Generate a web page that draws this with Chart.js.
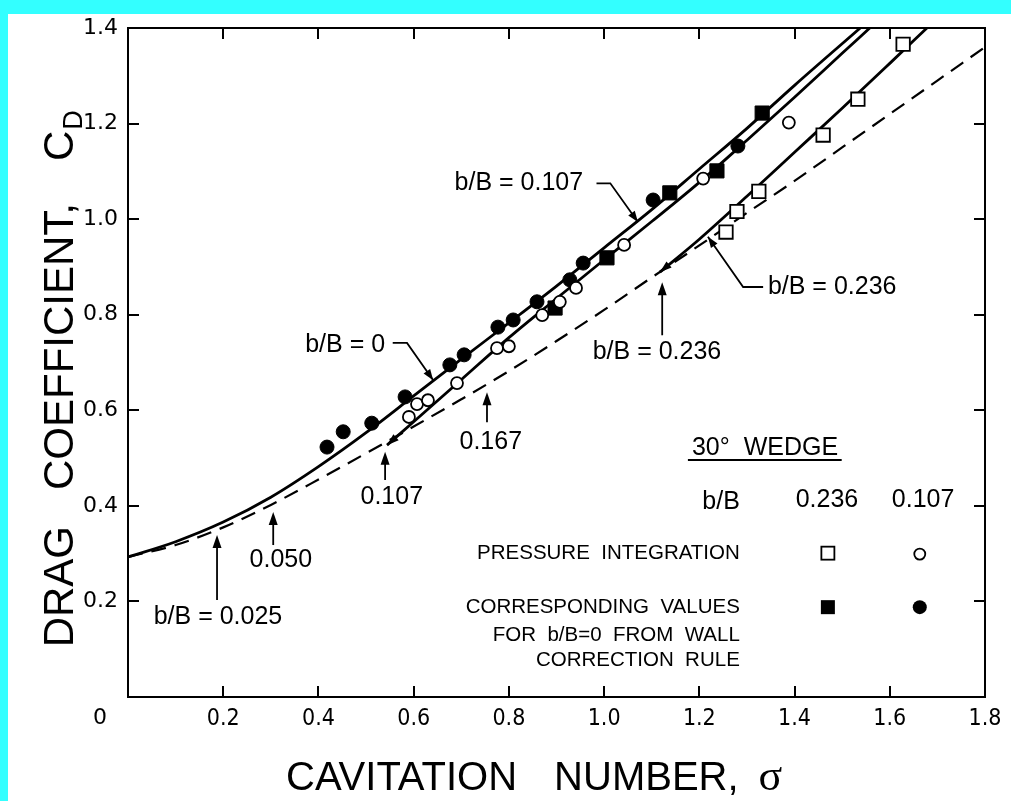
<!DOCTYPE html>
<html>
<head>
<meta charset="utf-8">
<script src="https://cdn.jsdelivr.net/npm/chart.js@4.4.0/dist/chart.umd.min.js"></script>
<style>
  html, body { margin: 0; padding: 0; background: #fff; }
  canvas { display: block; }
</style>
</head>
<body>
<canvas id="chart" width="1011" height="801"></canvas>
<script>
// Curves
const sigmaB0   = [0, 0.1, 0.2, 0.3, 0.4, 0.5, 0.6, 0.7, 0.8, 0.9, 1.0, 1.1, 1.2, 1.3, 1.4, 1.538];
const cdB0      = [0.293, 0.325, 0.366, 0.418, 0.482, 0.553, 0.630, 0.707, 0.783, 0.860, 0.940, 1.020, 1.105, 1.190, 1.280, 1.400];

const sigmaB107 = [0.544, 0.6, 0.7, 0.8, 0.9, 1.0, 1.1, 1.2, 1.3, 1.4, 1.5, 1.558];
const cdB107    = [0.527, 0.576, 0.664, 0.752, 0.834, 0.915, 0.995, 1.077, 1.165, 1.255, 1.347, 1.400];

const sigmaB236 = [1.117, 1.2, 1.3, 1.4, 1.5, 1.6, 1.678];
const cdB236    = [0.889, 0.958, 1.048, 1.140, 1.232, 1.326, 1.400];

const sigmaDash = [0, 0.1, 0.2, 0.3, 0.4, 0.5, 0.6, 0.7, 0.8, 0.9, 1.0, 1.1, 1.2, 1.3, 1.4, 1.5, 1.6, 1.7, 1.8];
const cdDash    = [0.293, 0.318, 0.355, 0.402, 0.455, 0.510, 0.566, 0.623, 0.682, 0.745, 0.810, 0.878, 0.945, 1.013, 1.080, 1.150, 1.220, 1.290, 1.360];

// Measured points
const sigmaOpenCircle   = [0.590, 0.607, 0.630, 0.691, 0.775, 0.800, 0.870, 0.907, 0.941, 1.042, 1.208, 1.388];
const cdOpenCircle      = [0.586, 0.613, 0.621, 0.657, 0.730, 0.734, 0.799, 0.827, 0.856, 0.946, 1.085, 1.202];
const sigmaFilledCircle = [0.418, 0.452, 0.512, 0.582, 0.676, 0.706, 0.777, 0.809, 0.859, 0.928, 0.956, 1.103, 1.281];
const cdFilledCircle    = [0.523, 0.555, 0.573, 0.628, 0.695, 0.716, 0.774, 0.789, 0.827, 0.873, 0.908, 1.040, 1.153];
const sigmaOpenSquare   = [1.256, 1.279, 1.325, 1.460, 1.533, 1.628];
const cdOpenSquare      = [0.973, 1.016, 1.058, 1.176, 1.251, 1.366];
const sigmaFilledSquare = [0.897, 1.006, 1.138, 1.237, 1.332];
const cdFilledSquare    = [0.814, 0.919, 1.055, 1.101, 1.222];

// Axis ticks
const xTickValues = [0, 0.2, 0.4, 0.6, 0.8, 1.0, 1.2, 1.4, 1.6, 1.8];
const yTickValues = [0, 0.2, 0.4, 0.6, 0.8, 1.0, 1.2, 1.4];

// Labels on the plot: [text, sigma, cd, align]
const curveLabels = [
  ['b/B = 0.107', 0.956, 1.075, 'right'],
  ['b/B = 0', 0.540, 0.737, 'right'],
  ['b/B = 0.236', 1.344, 0.858, 'left'],
  ['b/B = 0.236', 1.111, 0.722, 'center'],
  ['0.167', 0.762, 0.534, 'center'],
  ['0.107', 0.554, 0.418, 'center'],
  ['0.050', 0.321, 0.287, 'center'],
  ['b/B = 0.025', 0.189, 0.167, 'center']
];
// Leader lines: list of [sigma, cd] points, arrow at the last one
const leaders = [
  [[0.984, 1.075], [1.013, 1.075], [1.071, 0.994]],
  [[0.556, 0.741], [0.586, 0.741], [0.641, 0.663]],
  [[1.334, 0.858], [1.292, 0.858], [1.218, 0.963]]
];
// Vertical arrows: [sigma, cd from, cd to]
const upArrows = [
  [1.122, 0.757, 0.868],
  [0.754, 0.575, 0.638],
  [0.540, 0.454, 0.513],
  [0.305, 0.318, 0.387],
  [0.187, 0.203, 0.339]
];

const legendRows = ['PRESSURE  INTEGRATION', 'CORRESPONDING  VALUES', 'FOR  b/B=0  FROM  WALL', 'CORRECTION  RULE'];
const legendCols = ['0.236', '0.107'];

function pts(xs, ys) { return xs.map((x, i) => ({ x: x, y: ys[i] })); }

const SANS = '"Liberation Sans", Arial, sans-serif';

function arrowHead(ctx, x1, y1, x2, y2, len, half) {
  const a = Math.atan2(y2 - y1, x2 - x1);
  ctx.beginPath();
  ctx.moveTo(x2, y2);
  ctx.lineTo(x2 - len * Math.cos(a) + half * Math.sin(a), y2 - len * Math.sin(a) - half * Math.cos(a));
  ctx.lineTo(x2 - len * Math.cos(a) - half * Math.sin(a), y2 - len * Math.sin(a) + half * Math.cos(a));
  ctx.closePath();
  ctx.fill();
}

const decor = {
  id: 'decor',
  beforeDraw(chart) {
    const ctx = chart.ctx;
    ctx.save();
    ctx.fillStyle = '#fff';
    ctx.fillRect(0, 0, chart.width, chart.height);
    ctx.fillStyle = '#33ffff';
    ctx.fillRect(0, 0, chart.width, 14);
    ctx.fillRect(0, 0, 8, chart.height);
    ctx.restore();
  },
  afterDatasetsDraw(chart) {
    const ctx = chart.ctx;
    const xs = chart.scales.x, ys = chart.scales.y;
    const a = chart.chartArea;
    const X = v => xs.getPixelForValue(v);
    const Y = v => ys.getPixelForValue(v);
    ctx.save();
    ctx.strokeStyle = '#000';
    ctx.fillStyle = '#000';

    // frame + inward ticks
    ctx.lineWidth = 2;
    ctx.strokeRect(a.left, a.top, a.right - a.left, a.bottom - a.top);
    ctx.beginPath();
    xTickValues.slice(1, -1).forEach(v => {
      const px = Math.round(X(v));
      ctx.moveTo(px, a.top); ctx.lineTo(px, a.top + 11);
      ctx.moveTo(px, a.bottom); ctx.lineTo(px, a.bottom - 11);
    });
    yTickValues.slice(1, -1).forEach(v => {
      const py = Math.round(Y(v));
      ctx.moveTo(a.left, py); ctx.lineTo(a.left + 11, py);
      ctx.moveTo(a.right, py); ctx.lineTo(a.right - 11, py);
    });
    ctx.stroke();

    // arrowheads at the start of the blocked curves
    [[sigmaB107, cdB107], [sigmaB236, cdB236]].forEach(([sx, sy]) => {
      arrowHead(ctx, X(sx[1]), Y(sy[1]), X(sx[0]), Y(sy[0]), 12, 4);
    });

    // curve labels
    ctx.font = '25px ' + SANS;
    ctx.textBaseline = 'middle';
    curveLabels.forEach(([t, sx, sy, al]) => {
      ctx.textAlign = al;
      ctx.fillText(t, X(sx), Y(sy));
    });

    // leaders
    ctx.lineWidth = 1.8;
    leaders.forEach(p => {
      ctx.beginPath();
      p.forEach(([sx, sy], i) => i ? ctx.lineTo(X(sx), Y(sy)) : ctx.moveTo(X(sx), Y(sy)));
      ctx.stroke();
      const n = p.length;
      arrowHead(ctx, X(p[n - 2][0]), Y(p[n - 2][1]), X(p[n - 1][0]), Y(p[n - 1][1]), 11, 4);
    });
    upArrows.forEach(([sx, c0, c1]) => {
      ctx.beginPath();
      ctx.moveTo(X(sx), Y(c0)); ctx.lineTo(X(sx), Y(c1) + 4);
      ctx.stroke();
      arrowHead(ctx, X(sx), Y(c0), X(sx), Y(c1), 13, 4.5);
    });

    // legend block
    ctx.textBaseline = 'middle';
    ctx.textAlign = 'center';
    ctx.font = '25px ' + SANS;
    ctx.fillText('30\u00b0  WEDGE', X(1.338), Y(0.521));
    ctx.lineWidth = 2;
    ctx.beginPath();
    ctx.moveTo(X(1.176), Y(0.496)); ctx.lineTo(X(1.499), Y(0.496));
    ctx.stroke();
    ctx.font = '25px ' + SANS;
    ctx.textAlign = 'right';
    ctx.fillText('b/B', X(1.285), Y(0.408));
    ctx.textAlign = 'center';
    ctx.fillText(legendCols[0], X(1.468), Y(0.412));
    ctx.fillText(legendCols[1], X(1.670), Y(0.412));
    ctx.font = '20.5px ' + SANS;
    ctx.textAlign = 'right';
    const rowY = [0.301, 0.188, 0.130, 0.077];
    legendRows.forEach((t, i) => ctx.fillText(t, X(1.285), Y(rowY[i])));
    ctx.lineWidth = 1.8;
    const sq = 13;
    ctx.strokeRect(X(1.470) - sq / 2, Y(0.301) - sq / 2, sq, sq);
    ctx.fillRect(X(1.470) - 7, Y(0.188) - 7, 14, 14);
    ctx.beginPath(); ctx.arc(X(1.663), Y(0.299), 5.5, 0, Math.PI * 2); ctx.stroke();
    ctx.beginPath(); ctx.arc(X(1.663), Y(0.188), 7, 0, Math.PI * 2); ctx.fill();

    // corner zero
    ctx.font = '22px "DejaVu Sans", sans-serif';
    ctx.textAlign = 'center';
    ctx.fillText('0', a.left - 28, a.bottom + 21);

    // x title
    ctx.font = '40px ' + SANS;
    ctx.textAlign = 'left';
    ctx.textBaseline = 'alphabetic';
    const xt = ['CAVITATION', 'NUMBER,'];
    let cx = 286;
    ctx.fillText(xt[0], cx, 790);
    cx += ctx.measureText(xt[0]).width + 37;
    ctx.fillText(xt[1], cx, 790);
    cx += ctx.measureText(xt[1]).width + 20;
    ctx.font = '44px "Liberation Serif", serif';
    ctx.fillText('\u03c3', cx, 790);

    // y title
    ctx.translate(73, 380);
    ctx.rotate(-Math.PI / 2);
    ctx.font = '42px ' + SANS;
    const parts = ['DRAG', 'COEFFICIENT,', 'C'];
    const gaps = [36, 42];
    const w = parts.reduce((s, t) => s + ctx.measureText(t).width, 0) + gaps[0] + gaps[1] + 18;
    let ty = -w / 2;
    parts.forEach((t, i) => {
      ctx.fillText(t, ty, 0);
      ty += ctx.measureText(t).width + (gaps[i] || 0);
    });
    ctx.font = '27px ' + SANS;
    ctx.fillText('D', ty + 1, 9);
    ctx.restore();
  }
};

const lineStyle = { showLine: true, pointRadius: 0, borderColor: '#000', borderWidth: 2.8, fill: false, cubicInterpolationMode: 'monotone', order: 2 };

new Chart(document.getElementById('chart'), {
  type: 'scatter',
  data: {
    datasets: [
      { label: 'open circles', data: pts(sigmaOpenCircle, cdOpenCircle), pointStyle: 'circle', pointRadius: 6, borderWidth: 1.8, borderColor: '#000', backgroundColor: '#fff', order: 0 },
      { label: 'filled circles', data: pts(sigmaFilledCircle, cdFilledCircle), pointStyle: 'circle', pointRadius: 7, borderWidth: 1, borderColor: '#000', backgroundColor: '#000', order: 0 },
      { label: 'open squares', data: pts(sigmaOpenSquare, cdOpenSquare), pointStyle: 'rect', pointRadius: 9.5, borderWidth: 1.8, borderColor: '#000', backgroundColor: '#fff', order: 0 },
      { label: 'filled squares', data: pts(sigmaFilledSquare, cdFilledSquare), pointStyle: 'rect', pointRadius: 10, borderWidth: 1, borderColor: '#000', backgroundColor: '#000', order: 0 },
      Object.assign({ label: 'b/B = 0', data: pts(sigmaB0, cdB0) }, lineStyle),
      Object.assign({ label: 'b/B = 0.107', data: pts(sigmaB107, cdB107) }, lineStyle),
      Object.assign({ label: 'b/B = 0.236', data: pts(sigmaB236, cdB236) }, lineStyle),
      Object.assign({ label: 'onset', data: pts(sigmaDash, cdDash) }, lineStyle, { borderWidth: 2.2, borderDash: [15, 9] })
    ]
  },
  options: {
    responsive: false,
    animation: false,
    devicePixelRatio: 1,
    layout: { padding: { left: 8, top: 28, right: 26, bottom: 0 } },
    plugins: { legend: { display: false }, tooltip: { enabled: false } },
    scales: {
      x: {
        type: 'linear', min: 0, max: 1.8,
        afterFit: s => { s.height = 104; },
        afterBuildTicks: s => { s.ticks = xTickValues.map(v => ({ value: v })); },
        grid: { display: false, drawTicks: false },
        border: { display: false },
        ticks: {
          color: '#000', padding: 8, maxRotation: 0, autoSkip: false,
          font: { family: '"DejaVu Sans Condensed", sans-serif', size: 23 },
          callback: v => v === 0 ? '' : v.toFixed(1)
        }
      },
      y: {
        type: 'linear', min: 0, max: 1.4,
        afterFit: s => { s.width = 120; },
        afterBuildTicks: s => { s.ticks = yTickValues.map(v => ({ value: v })); },
        grid: { display: false, drawTicks: false },
        border: { display: false },
        ticks: {
          color: '#000', padding: 10, autoSkip: false,
          font: { family: '"DejaVu Sans", sans-serif', size: 22 },
          callback: v => v === 0 ? '' : v.toFixed(1)
        }
      }
    }
  },
  plugins: [decor]
});
</script>
</body>
</html>
